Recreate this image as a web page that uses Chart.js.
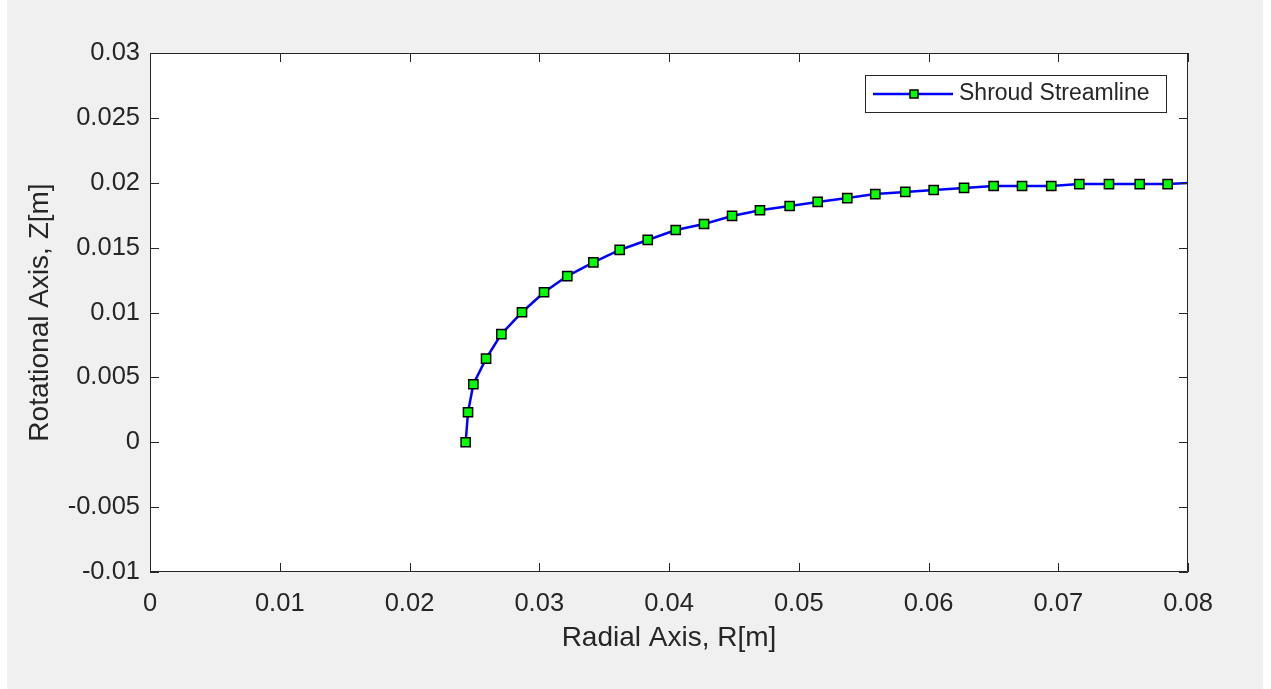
<!DOCTYPE html>
<html>
<head>
<meta charset="utf-8">
<script src="https://cdn.jsdelivr.net/npm/chart.js@4/dist/chart.umd.min.js"></script>
<style>
  html, body { margin: 0; padding: 0; background: #ffffff; }
  canvas { display: block; }
</style>
</head>
<body>
<canvas id="streamChart" width="1271" height="689"></canvas>
<script>
// shroud streamline (R, Z in metres)
const radialR = [0.02433, 0.02451, 0.02492, 0.02590, 0.02708, 0.02867, 0.03037, 0.03216, 0.03417, 0.03620,
                 0.03836, 0.04052, 0.04270, 0.04486, 0.04701, 0.04930, 0.05146, 0.05374, 0.05590, 0.05821,
                 0.06040, 0.06274, 0.06502, 0.06721, 0.06946, 0.07162, 0.07391, 0.07628, 0.07843, 0.08060];
const axialZ = [0.00000, 0.00231, 0.00447, 0.00644, 0.00834, 0.01002, 0.01156, 0.01281, 0.01387, 0.01482,
                0.01559, 0.01636, 0.01682, 0.01744, 0.01788, 0.01821, 0.01852, 0.01882, 0.01913, 0.01929,
                0.01944, 0.01960, 0.01975, 0.01975, 0.01975, 0.01990, 0.01990, 0.01990, 0.01990, 0.02000];

const xTickValues = [0, 0.01, 0.02, 0.03, 0.04, 0.05, 0.06, 0.07, 0.08];
const xTickLabels = ['0', '0.01', '0.02', '0.03', '0.04', '0.05', '0.06', '0.07', '0.08'];
const yTickValues = [-0.01, -0.005, 0, 0.005, 0.01, 0.015, 0.02, 0.025, 0.03];
const yTickLabels = ['-0.01', '-0.005', '0', '0.005', '0.01', '0.015', '0.02', '0.025', '0.03'];

const seriesName = 'Shroud Streamline';
const axisColor = '#262626';
const fontFamily = "Arial, 'Liberation Sans', sans-serif";

const points = radialR.map((r, i) => ({ x: r, y: axialZ[i] }));

function drawMarker(ctx, x, y) {
    ctx.fillStyle = '#00ff00';
    ctx.strokeStyle = '#000000';
    ctx.lineWidth = 1.5;
    ctx.fillRect(x - 4, y - 4, 8, 8);
    ctx.strokeRect(x - 4, y - 4, 8, 8);
}

// grey figure background + white axes
const backgroundPlugin = {
    id: 'figureBackground',
    beforeDraw(chart) {
        const ctx = chart.ctx;
        const a = chart.chartArea;
        ctx.save();
        ctx.fillStyle = '#f0f0f0';
        ctx.fillRect(7, 0, 1256, chart.height);
        ctx.fillStyle = '#ffffff';
        ctx.fillRect(a.left, a.top, a.right - a.left, a.bottom - a.top);
        ctx.restore();
    }
};

// box + inward ticks on all four sides, matlab style
const frameAndLegendPlugin = {
    id: 'frameAndLegend',
    afterDatasetsDraw(chart) {
        const ctx = chart.ctx;
        const a = chart.chartArea;
        const xs = chart.scales.x;
        const ys = chart.scales.y;
        const tl = 9;
        ctx.save();
        ctx.strokeStyle = axisColor;
        ctx.lineWidth = 1;
        ctx.beginPath();
        ctx.rect(a.left + 0.5, a.top + 0.5, a.right - a.left - 1, a.bottom - a.top - 1);
        xTickValues.forEach(v => {
            const px = Math.round(xs.getPixelForValue(v)) + 0.5;
            ctx.moveTo(px, a.bottom); ctx.lineTo(px, a.bottom - tl);
            ctx.moveTo(px, a.top); ctx.lineTo(px, a.top + tl);
        });
        yTickValues.forEach(v => {
            const py = Math.round(ys.getPixelForValue(v)) + 0.5;
            ctx.moveTo(a.left, py); ctx.lineTo(a.left + tl, py);
            ctx.moveTo(a.right, py); ctx.lineTo(a.right - tl, py);
        });
        ctx.stroke();

        // legend box
        const lx = 865, ly = 75, lw = 301, lh = 37;
        ctx.fillStyle = '#ffffff';
        ctx.fillRect(lx, ly, lw, lh);
        ctx.strokeStyle = axisColor;
        ctx.strokeRect(lx + 0.5, ly + 0.5, lw, lh);
        ctx.strokeStyle = '#0000ff';
        ctx.lineWidth = 2.5;
        ctx.beginPath();
        ctx.moveTo(873, 94);
        ctx.lineTo(953, 94);
        ctx.stroke();
        drawMarker(ctx, 914, 94);
        ctx.fillStyle = axisColor;
        ctx.font = '23px ' + fontFamily;
        ctx.textAlign = 'left';
        ctx.textBaseline = 'middle';
        ctx.fillText(seriesName, 959, 94);
        ctx.restore();
    }
};

const ctx = document.getElementById('streamChart').getContext('2d');
const chart = new Chart(ctx, {
    type: 'scatter',
    data: {
        datasets: [{
            label: seriesName,
            data: points,
            showLine: true,
            borderColor: '#0000ff',
            borderWidth: 2.5,
            tension: 0,
            pointStyle: 'rect',
            pointRadius: 6.5,
            pointHoverRadius: 6.5,
            pointBackgroundColor: '#00ff00',
            pointBorderColor: '#000000',
            pointBorderWidth: 1.5,
            clip: 0
        }]
    },
    options: {
        responsive: false,
        animation: false,
        events: [],
        layout: { padding: { left: 0, top: 53, right: 83, bottom: 0 } },
        plugins: {
            legend: { display: false },
            tooltip: { enabled: false }
        },
        scales: {
            x: {
                type: 'linear',
                min: 0,
                max: 0.08,
                afterBuildTicks: s => { s.ticks = xTickValues.map(v => ({ value: v })); },
                afterFit: s => { s.height = 117; },
                grid: { display: false, drawTicks: false },
                border: { display: false },
                ticks: {
                    padding: 17,
                    color: axisColor,
                    font: { family: fontFamily, size: 25.5 },
                    maxRotation: 0,
                    callback: (v, i) => xTickLabels[i]
                },
                title: {
                    display: true,
                    text: 'Radial Axis, R[m]',
                    color: axisColor,
                    font: { family: fontFamily, size: 28 },
                    padding: { top: 0, bottom: 34 }
                }
            },
            y: {
                type: 'linear',
                min: -0.01,
                max: 0.03,
                afterBuildTicks: s => { s.ticks = yTickValues.map(v => ({ value: v })); },
                afterFit: s => { s.width = 150; },
                grid: { display: false, drawTicks: false },
                border: { display: false },
                ticks: {
                    padding: 10,
                    color: axisColor,
                    font: { family: fontFamily, size: 25.5 },
                    callback: (v, i) => yTickLabels[i]
                },
                title: {
                    display: true,
                    text: 'Rotational Axis, Z[m]',
                    color: axisColor,
                    font: { family: fontFamily, size: 28 },
                    padding: { top: 23, bottom: 0 }
                }
            }
        }
    },
    plugins: [backgroundPlugin, frameAndLegendPlugin]
});
</script>
</body>
</html>
